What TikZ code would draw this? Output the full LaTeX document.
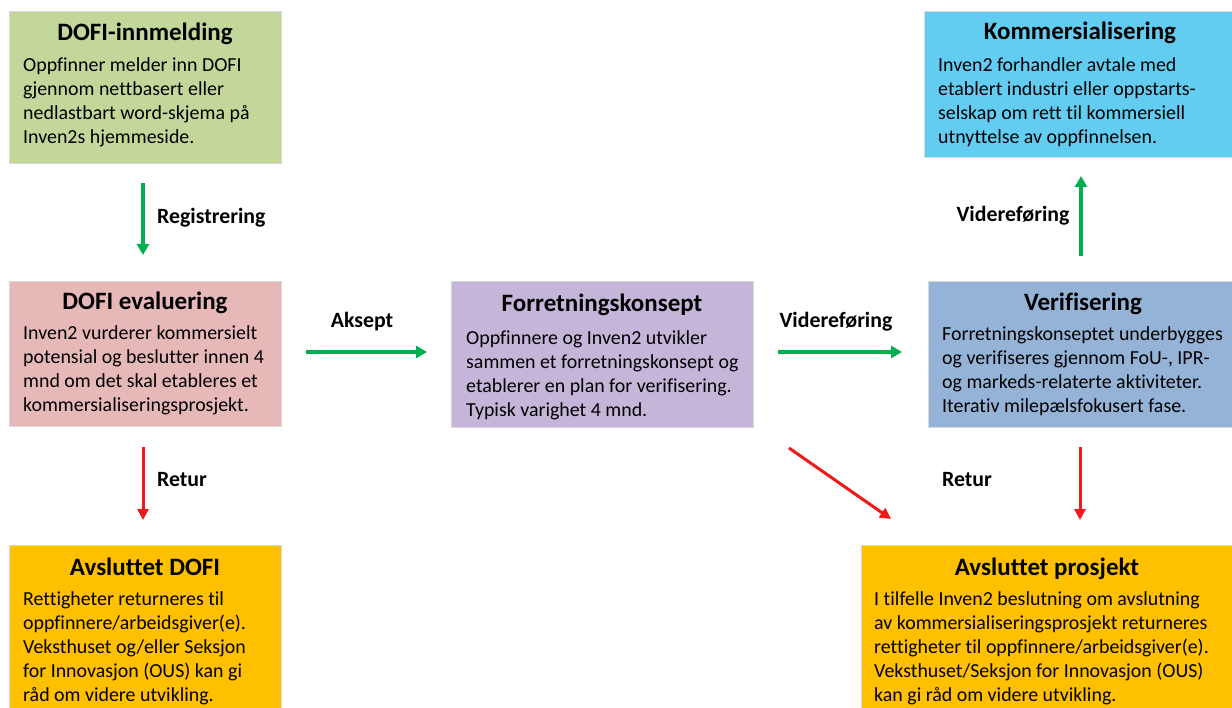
\documentclass[tikz,border=0pt]{standalone}
\usepackage{fontspec}
\setmainfont[Ligatures={NoCommon}]{Carlito}
\usetikzlibrary{arrows.meta}
\definecolor{cgreen}{HTML}{C4D79B}
\definecolor{cblue}{HTML}{63CDF1}
\definecolor{cpink}{HTML}{E6B9B8}
\definecolor{cpurple}{HTML}{C5B5D9}
\definecolor{csteel}{HTML}{95B3D7}
\definecolor{corange}{HTML}{FFC000}
\definecolor{agreen}{HTML}{00B050}
\definecolor{ared}{HTML}{F01818}
\tikzset{
  box/.style={draw=black!15, line width=0.6pt, fill=#1, anchor=north west, inner sep=0pt},
  boxtitle/.style={anchor=base, inner sep=0pt, font=\fontsize{25}{29}\selectfont\bfseries},
  boxbody/.style={anchor=north west, inner sep=0pt, align=left, font=\fontsize{19.9}{24}\selectfont},
  lbl/.style={inner sep=0pt, font=\fontsize{21.8}{26}\selectfont\bfseries},
  garrow/.style={draw=agreen, line width=3.4pt, -{Triangle[length=11pt,width=12pt]}},
  rarrow/.style={draw=ared, line width=3pt, -{Triangle[length=11pt,width=11pt]}},
}
\begin{document}
\begin{tikzpicture}[x=1pt,y=-1pt]
\useasboundingbox (0,0) rectangle (1232,708);
% boxes
\node[box=cgreen, minimum width=272pt, minimum height=152pt] (b1) at (9,11) {};
\node[box=cblue, minimum width=309pt, minimum height=146pt] (b2) at (924,11) {};
\node[box=cpink, minimum width=272pt, minimum height=145pt] (b3) at (9,281) {};
\node[box=cpurple, minimum width=302pt, minimum height=146pt] (b4) at (451,281) {};
\node[box=csteel, minimum width=305pt, minimum height=146pt] (b5) at (928,281) {};
\node[box=corange, minimum width=272pt, minimum height=164pt] (b6) at (9,545) {};
\node[box=corange, minimum width=372pt, minimum height=164pt] (b7) at (861,545) {};
% titles
\node[boxtitle] (t1) at (145,41) {DOFI-innmelding};
\node[boxtitle] (t2) at (1080,40) {Kommersialisering};
\node[boxtitle] (t3) at (145,310) {DOFI evaluering};
\node[boxtitle] (t4) at (602,312) {Forretningskonsept};
\node[boxtitle] (t5) at (1083,311) {Verifisering};
\node[boxtitle] (t6) at (145,575) {Avsluttet DOFI};
\node[boxtitle] (t7) at (1047,575) {Avsluttet prosjekt};
% bodies
\node[boxbody] (d1) at (23,55) {\strut Oppfinner melder inn DOFI\\gjennom nettbasert eller\\nedlastbart word-skjema på\\Inven2s hjemmeside.};
\node[boxbody] (d2) at (938,55) {\strut Inven2 forhandler avtale med\\etablert industri eller oppstarts-\\selskap om rett til kommersiell\\utnyttelse av oppfinnelsen.};
\node[boxbody] (d3) at (23,323) {\strut Inven2 vurderer kommersielt\\potensial og beslutter innen 4\\mnd om det skal etableres et\\kommersialiseringsprosjekt.};
\node[boxbody] (d4) at (466,328) {\strut Oppfinnere og Inven2 utvikler\\sammen et forretningskonsept og\\etablerer en plan for verifisering.\\Typisk varighet 4 mnd.};
\node[boxbody] (d5) at (942,324) {\strut Forretningskonseptet underbygges\\og verifiseres gjennom FoU-, IPR-\\og markeds-relaterte aktiviteter.\\Iterativ milepælsfokusert fase.};
\node[boxbody] (d6) at (23,588) {\strut Rettigheter returneres til\\oppfinnere/arbeidsgiver(e).\\Veksthuset og/eller Seksjon\\for Innovasjon (OUS) kan gi\\råd om videre utvikling.};
\node[boxbody] (d7) at (874,588) {\strut I tilfelle Inven2 beslutning om avslutning\\av kommersialiseringsprosjekt returneres\\rettigheter til oppfinnere/arbeidsgiver(e).\\Veksthuset/Seksjon for Innovasjon (OUS)\\kan gi råd om videre utvikling.};
% arrow end points
\coordinate (a1s) at (143,183); \coordinate (a1e) at (143,255);
\coordinate (a2s) at (306,352); \coordinate (a2e) at (427,352);
\coordinate (a3s) at (778,352); \coordinate (a3e) at (902,352);
\coordinate (a4s) at (1081,256); \coordinate (a4e) at (1081,176);
\coordinate (a5s) at (143,447); \coordinate (a5e) at (143,520);
\coordinate (a6s) at (789,448); \coordinate (a6e) at (891,519);
\coordinate (a7s) at (1080,447); \coordinate (a7e) at (1080,520);
\draw[garrow] (a1s) -- (a1e);
\draw[garrow] (a2s) -- (a2e);
\draw[garrow] (a3s) -- (a3e);
\draw[garrow] (a4s) -- (a4e);
\draw[rarrow] (a5s) -- (a5e);
\draw[rarrow] (a6s) -- (a6e);
\draw[rarrow] (a7s) -- (a7e);
% labels
\node[lbl, anchor=west] (l1) at (157,218) {Registrering};
\node[lbl] (l2) at (362,322) {Aksept};
\node[lbl] (l3) at (836,322) {Videreføring};
\node[lbl] (l4) at (1013,216) {Videreføring};
\node[lbl] (l5) at (182,480) {Retur};
\node[lbl] (l6) at (967,480) {Retur};
\end{tikzpicture}
\end{document}
